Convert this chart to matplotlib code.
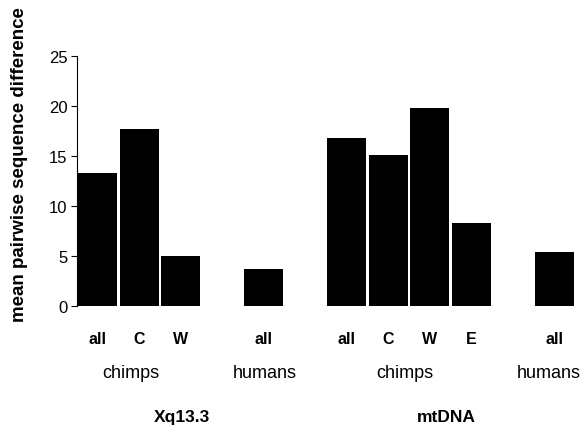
import numpy as np
import matplotlib.pyplot as plt

plt.rcParams['font.family'] = ['Liberation Sans', 'DejaVu Sans']

# Data
slots = [0, 1, 2, 4, 6, 7, 8, 9, 11]
values = [13.3, 17.7, 5.0, 3.7, 16.8, 15.1, 19.8, 8.3, 5.4]
cat_labels = ['all', 'C', 'W', 'all', 'all', 'C', 'W', 'E', 'all']
group_pos = [0.8, 4.03, 7.4, 10.88]
group_labels = ['chimps', 'humans', 'chimps', 'humans']
gene_pos = [2.03, 8.4]
gene_labels = ['Xq13.3', 'mtDNA']

fig = plt.figure(figsize=(5.86, 4.27), dpi=100)
ax = fig.add_axes([0.1314, 0.281, 0.8497, 0.5855])

ax.bar(slots, values, width=0.94, color='black')

ax.set_xlim(-0.5, 11.5)
ax.set_ylim(0, 25)
ax.set_yticks([0, 5, 10, 15, 20, 25])
ax.tick_params(axis='y', labelsize=12, length=4, pad=3)
ax.set_xticks(slots)
ax.set_xticklabels(cat_labels, fontsize=11.5, fontweight='bold')
ax.tick_params(axis='x', length=0, pad=18)

for s in ['top', 'right', 'bottom']:
    ax.spines[s].set_visible(False)
ax.spines['left'].set_linewidth(0.8)

trans = ax.get_xaxis_transform()
for x, t in zip(group_pos, group_labels):
    ax.text(x, -0.264, t, transform=trans, ha='center', va='center', fontsize=13)
for x, t in zip(gene_pos, gene_labels):
    ax.text(x, -0.44, t, transform=trans, ha='center', va='center', fontsize=12.5, fontweight='bold')

fig.text(0.034, 0.614, 'mean pairwise sequence difference', rotation=90,
         ha='center', va='center', fontsize=13.5, fontweight='bold')

fig.savefig('out.png', dpi=100)
